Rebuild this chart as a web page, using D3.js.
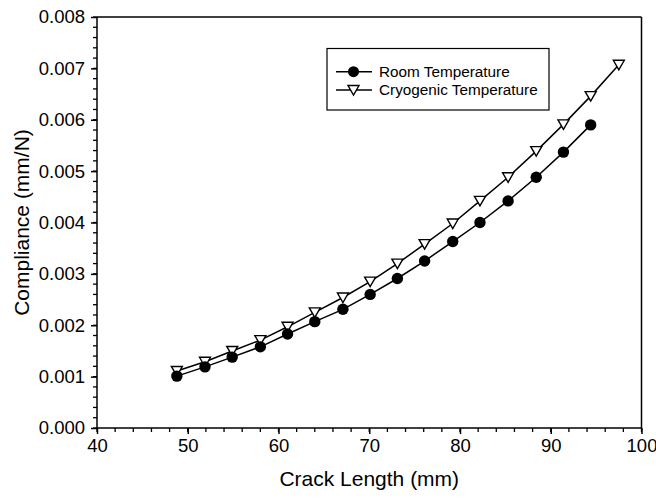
<!DOCTYPE html>
<html><head><meta charset="utf-8">
<script src="https://cdn.jsdelivr.net/npm/d3@7"></script>
<style>
html,body{margin:0;padding:0;background:#fff;}
svg text{font-family:"Liberation Sans",Arial,sans-serif;fill:#000;}
</style></head>
<body><svg id="c" width="656" height="499"></svg>
<script>
const crackLength = [48.8, 51.9, 54.9, 58.0, 61.0, 64.0, 67.1, 70.1, 73.1, 76.1, 79.2, 82.2, 85.3, 88.4, 91.4, 94.4, 97.5];
const roomTemp = [0.00101, 0.00119, 0.00138, 0.00158, 0.00183, 0.00207, 0.00231, 0.00260, 0.00291, 0.00325, 0.00363, 0.00400, 0.00442, 0.00488, 0.00537, 0.00590];
const cryoTemp = [0.00111, 0.00129, 0.00150, 0.00171, 0.00197, 0.00225, 0.00254, 0.00285, 0.00320, 0.00358, 0.00398, 0.00442, 0.00488, 0.00539, 0.00591, 0.00646, 0.00707];
const xTicks = [40, 50, 60, 70, 80, 90, 100];
const yTicks = [0, 0.001, 0.002, 0.003, 0.004, 0.005, 0.006, 0.007, 0.008];
const seriesNames = ["Room Temperature", "Cryogenic Temperature"];

const svg = d3.select("#c");
const L = 97, R = 641.5, T = 17, B = 428;
const x = d3.scaleLinear().domain([40, 100]).range([L, R]);
const y = d3.scaleLinear().domain([0, 0.008]).range([B, T]);

// frame top and right
svg.append("line").attr("x1", L).attr("x2", R).attr("y1", T).attr("y2", T).attr("stroke", "#000").attr("stroke-width", 1.5);
svg.append("line").attr("x1", R).attr("x2", R).attr("y1", T).attr("y2", B).attr("stroke", "#000").attr("stroke-width", 1.5);

// minor ticks
const xMinor = d3.range(40, 100.01, 2);
const yMinor = d3.range(0, 0.00801, 0.0002);
const gx = svg.append("g").attr("transform", `translate(0,${B})`);
gx.selectAll("line.mn").data(xMinor).enter().append("line")
  .attr("x1", d => x(d)).attr("x2", d => x(d)).attr("y1", 0).attr("y2", 4)
  .attr("stroke", "#000").attr("stroke-width", 1.3);
gx.call(d3.axisBottom(x).tickValues(xTicks).tickSize(6).tickPadding(5).tickFormat(d3.format("d")));
const gy = svg.append("g").attr("transform", `translate(${L},0)`);
gy.selectAll("line.mn").data(yMinor).enter().append("line")
  .attr("x1", -4).attr("x2", 0).attr("y1", d => y(d)).attr("y2", d => y(d))
  .attr("stroke", "#000").attr("stroke-width", 1.3);
gy.call(d3.axisLeft(y).tickValues(yTicks).tickSize(6).tickPadding(6).tickFormat(d3.format(".3f")));
[gx, gy].forEach(g => {
  g.selectAll(".tick line").attr("stroke-width", 1.5);
  g.selectAll(".tick text").attr("font-size", 18.5).attr("font-family", "Liberation Sans, Arial, sans-serif");
});
gx.selectAll(".domain").remove();
gy.selectAll(".domain").remove();
gx.append("line").attr("x1", L).attr("x2", R).attr("stroke", "#000").attr("stroke-width", 1.5);
gy.append("line").attr("y1", T).attr("y2", B).attr("stroke", "#000").attr("stroke-width", 1.5);

// axis titles
svg.append("text").attr("x", (L + R) / 2).attr("y", 486).attr("text-anchor", "middle")
  .attr("font-size", 21).text("Crack Length (mm)");
svg.append("text").attr("transform", `translate(29,${(T + B) / 2}) rotate(-90)`).attr("text-anchor", "middle")
  .attr("font-size", 21).text("Compliance (mm/N)");

const line = d3.line().x(d => x(d[0])).y(d => y(d[1]));
const roomPts = roomTemp.map((v, i) => [crackLength[i], v]);
const cryoPts = cryoTemp.map((v, i) => [crackLength[i], v]);
svg.append("path").attr("d", line(cryoPts)).attr("fill", "none").attr("stroke", "#000").attr("stroke-width", 1.5);
svg.append("path").attr("d", line(roomPts)).attr("fill", "none").attr("stroke", "#000").attr("stroke-width", 1.5);

function triDown(g, cx, cy) {
  g.append("path").attr("d", "M-5.5,-4.5L5.5,-4.5L0,5Z").attr("transform", `translate(${cx},${cy})`)
    .attr("fill", "#fff").attr("stroke", "#000").attr("stroke-width", 1.4);
}
const gm = svg.append("g");
cryoPts.forEach(p => triDown(gm, x(p[0]), y(p[1])));
gm.selectAll("circle").data(roomPts).enter().append("circle")
  .attr("cx", d => x(d[0])).attr("cy", d => y(d[1])).attr("r", 5.7).attr("fill", "#000");

// legend
const lg = svg.append("g");
lg.append("rect").attr("x", 327).attr("y", 48.5).attr("width", 222).attr("height", 61.5)
  .attr("fill", "#fff").attr("stroke", "#000").attr("stroke-width", 1.2);
const rows = [71.7, 90];
rows.forEach((ry, i) => {
  lg.append("line").attr("x1", 336).attr("x2", 372).attr("y1", ry).attr("y2", ry).attr("stroke", "#000").attr("stroke-width", 1.5);
  if (i === 0) lg.append("circle").attr("cx", 353.5).attr("cy", ry).attr("r", 5.5).attr("fill", "#000");
  else triDown(lg, 353.5, ry);
  lg.append("text").attr("x", 379).attr("y", ry + 5.4).attr("font-size", 15.3).text(seriesNames[i]);
});
</script></body></html>
